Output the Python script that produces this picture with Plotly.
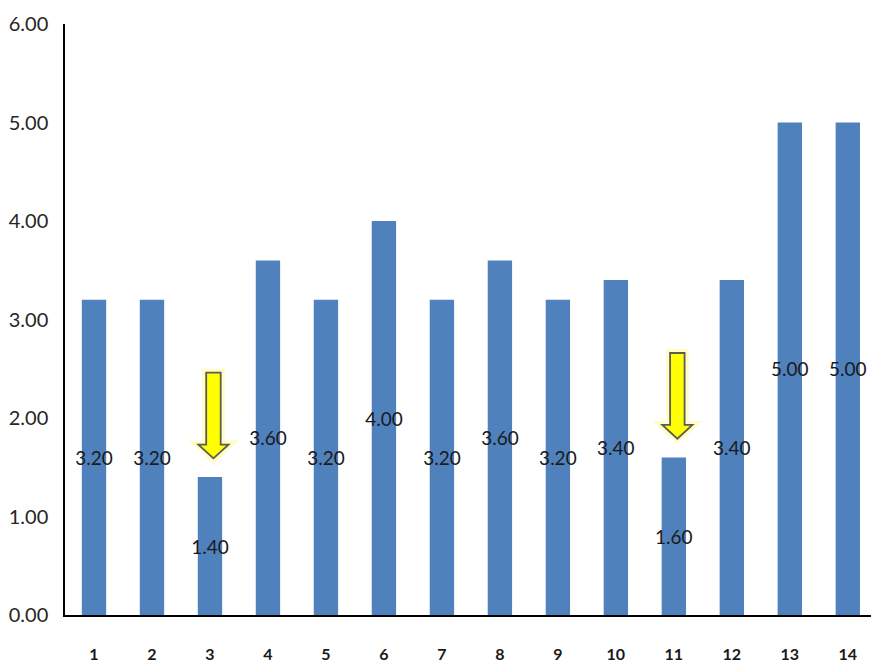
import plotly.graph_objects as go

categories = list(range(1, 15))
values = [3.20, 3.20, 1.40, 3.60, 3.20, 4.00, 3.20, 3.60, 3.20, 3.40, 1.60, 3.40, 5.00, 5.00]
y_ticks = [0, 1, 2, 3, 4, 5, 6]
arrow_cats = [3, 11]

FONT = "Lato, Liberation Sans, sans-serif"

fig = go.Figure()
fig.add_trace(go.Bar(
    x=categories, y=values, width=0.42,
    marker=dict(color="#4F81BD", line=dict(width=0)),
    text=[f"{v:.2f}" for v in values],
    textposition="inside", insidetextanchor="middle",
    textangle=0,
    textfont=dict(family=FONT, size=19, color="#1a1a1a"),
    constraintext="none",
))

# Yellow down arrows above the low bars (soft glow + arrow)
for c in arrow_cats:
    v = values[c - 1]
    xc = c + 0.06
    tip = v + 0.19
    top = tip + 0.87
    neck = tip + 0.14
    sw, hw = 0.125, 0.26
    path = (f"M {xc-sw},{top} L {xc+sw},{top} L {xc+sw},{neck} L {xc+hw},{neck} "
            f"L {xc},{tip} L {xc-hw},{neck} L {xc-sw},{neck} Z")
    fig.add_shape(type="path", path=path, xref="x", yref="y",
                  fillcolor="rgba(255,255,150,0.0)",
                  line=dict(color="rgba(255,250,160,0.6)", width=8))
    fig.add_shape(type="path", path=path, xref="x", yref="y",
                  fillcolor="#FFFF00", line=dict(color="#5a5a5a", width=1.8))

fig.update_layout(
    width=871, height=665,
    margin=dict(l=65, r=0, t=24, b=50),
    plot_bgcolor="white", paper_bgcolor="white",
    showlegend=False,
)
fig.update_xaxes(
    range=[0.5, 14.4], tickvals=categories, ticktext=[f"<b>{c}</b>" for c in categories],
    showline=True, linecolor="black", linewidth=1.5, ticks="", showgrid=False,
    zeroline=False,
    tickfont=dict(family=FONT, size=16, color="#1a1a1a"), ticklabelstandoff=24,
)
fig.update_yaxes(
    range=[0, 6], tickvals=y_ticks, ticktext=[f"{t:.2f}" for t in y_ticks],
    showline=True, linecolor="black", linewidth=1.5, ticks="", showgrid=False,
    zeroline=False,
    tickfont=dict(family=FONT, size=20, color="#262626"), ticklabelstandoff=11,
)

fig.write_html("out.html")
